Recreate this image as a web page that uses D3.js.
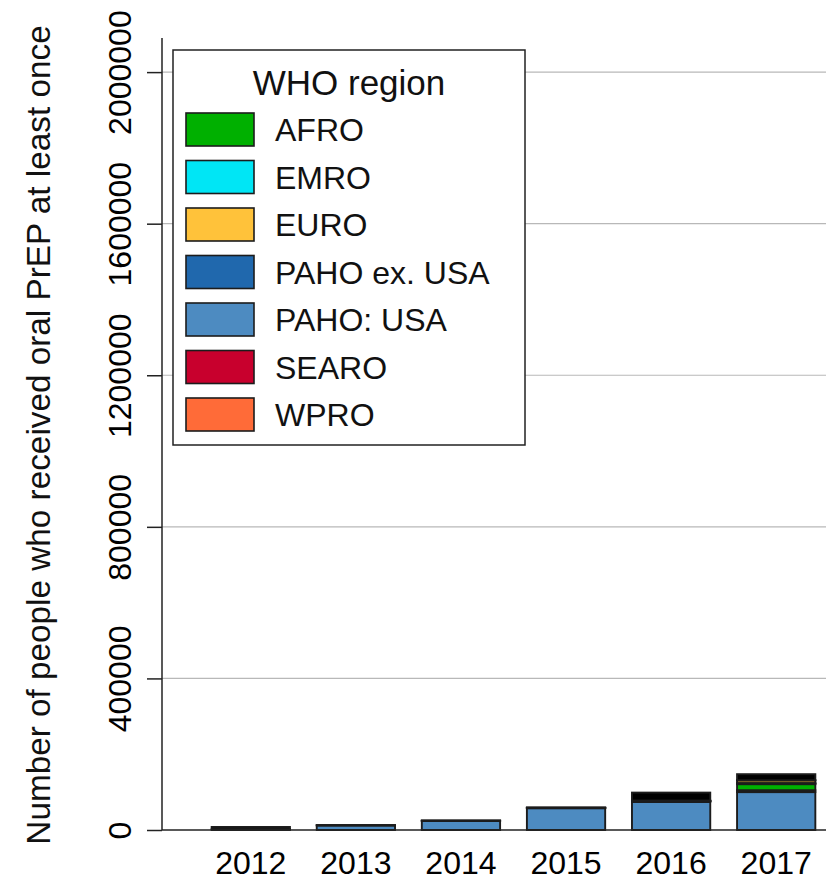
<!DOCTYPE html>
<html>
<head>
<meta charset="utf-8">
<script src="https://cdn.jsdelivr.net/npm/d3@7/dist/d3.min.js"></script>
<style>
  html, body { margin: 0; padding: 0; background: #fff; }
  svg { display: block; font-family: "Liberation Sans", Arial, sans-serif; }
</style>
</head>
<body>
<svg id="chart" width="826" height="880"></svg>
<script>
// Oral PrEP uptake by WHO region, 2012-2017
const years = ["2012", "2013", "2014", "2015", "2016", "2017"];

// series in stacking order (bottom to top)
const pahoUSA   = [2500, 12000, 24000, 57500, 74000, 100000];
const pahoExUSA = [0,    500,   500,   800,   1500,  5000];
const afro      = [0,    0,     200,   300,   1000,  16000];
const searo     = [0,    0,     0,     100,   300,   1500];
const wpro      = [0,    0,     0,     100,   300,   1500];
const euro      = [0,    0,     100,   200,   600,   7000];
const emro      = [0,    0,     0,     0,     0,     300];
const notReported = [5500, 500, 0,     0,     21000, 16000];

const yTicks = [0, 400000, 800000, 1200000, 1600000, 2000000];

const legendNames  = ["AFRO", "EMRO", "EURO", "PAHO ex. USA", "PAHO: USA", "SEARO", "WPRO"];
const legendColors = ["#00b000", "#00e6f5", "#ffc23a", "#2068ad", "#4d8bc1", "#c8002d", "#ff6b38"];

const seriesKeys = ["PAHO: USA", "PAHO ex. USA", "AFRO", "SEARO", "WPRO", "EURO", "EMRO", "Not reported"];
const seriesValues = [pahoUSA, pahoExUSA, afro, searo, wpro, euro, emro, notReported];
const fillOf = k => k === "Not reported" ? "#000000" : legendColors[legendNames.indexOf(k)];

const rows = years.map((yr, i) => {
  const r = { year: yr };
  seriesKeys.forEach((k, j) => { r[k] = seriesValues[j][i]; });
  return r;
});

const svg = d3.select("#chart");

const plot = { left: 162, right: 826, top: 38, bottom: 830 };

const x = d3.scaleBand()
  .domain(years)
  .range([198, 829])
  .paddingInner(0.255)
  .paddingOuter(0.13);

const y = d3.scaleLinear()
  .domain([0, 2090000])
  .range([plot.bottom, plot.top]);

// horizontal gridlines
svg.append("g")
  .selectAll("line")
  .data(yTicks.filter(d => d > 0))
  .join("line")
  .attr("x1", plot.left).attr("x2", plot.right)
  .attr("y1", d => y(d)).attr("y2", d => y(d))
  .attr("stroke", "#b8b8b8")
  .attr("stroke-width", 1.2);

// stacked bars
const stacked = d3.stack().keys(seriesKeys)(rows);
svg.append("g")
  .selectAll("g")
  .data(stacked)
  .join("g")
  .attr("fill", d => fillOf(d.key))
  .selectAll("rect")
  .data(d => d.filter(s => s[1] - s[0] > 0))
  .join("rect")
  .attr("x", d => x(d.data.year))
  .attr("width", x.bandwidth())
  .attr("y", d => y(d[1]))
  .attr("height", d => y(d[0]) - y(d[1]))
  .attr("stroke", "#1c1c1c")
  .attr("stroke-width", 1.9);

// y axis
const yAxis = svg.append("g")
  .attr("transform", `translate(${plot.left},0)`)
  .call(d3.axisLeft(y).tickValues(yTicks).tickSize(15).tickFormat(d3.format("d")));
yAxis.select(".domain").remove();
yAxis.selectAll(".tick line").attr("stroke", "#222").attr("stroke-width", 1.5);
yAxis.selectAll(".tick text")
  .attr("x", null).attr("dy", null)
  .attr("transform", "translate(-31,0) rotate(-90)")
  .attr("text-anchor", "middle")
  .attr("fill", "#000")
  .style("font-size", "32px")
  .style("font-family", "'Liberation Sans', Arial, sans-serif");
svg.append("line")
  .attr("x1", plot.left).attr("x2", plot.left)
  .attr("y1", plot.top).attr("y2", plot.bottom)
  .attr("stroke", "#222").attr("stroke-width", 1.5);

// x axis
const xAxis = svg.append("g")
  .attr("transform", `translate(0,${plot.bottom})`)
  .call(d3.axisBottom(x).tickSize(0).tickPadding(0));
xAxis.select(".domain").remove();
xAxis.selectAll(".tick text")
  .attr("y", 44).attr("dy", null)
  .attr("fill", "#000")
  .style("font-size", "32px")
  .style("font-family", "'Liberation Sans', Arial, sans-serif");
svg.append("line")
  .attr("x1", plot.left).attr("x2", plot.right)
  .attr("y1", plot.bottom).attr("y2", plot.bottom)
  .attr("stroke", "#222").attr("stroke-width", 1.5);

// y axis title
svg.append("text")
  .attr("transform", `translate(50,${(plot.top + plot.bottom) / 2 + 1}) rotate(-90)`)
  .attr("text-anchor", "middle")
  .style("font-size", "33.3px")
  .attr("fill", "#111")
  .text("Number of people who received oral PrEP at least once");

// legend
const lg = svg.append("g").attr("transform", "translate(173,50)");
lg.append("rect")
  .attr("width", 352).attr("height", 395)
  .attr("fill", "#fff")
  .attr("stroke", "#222").attr("stroke-width", 1.5);
lg.append("text")
  .attr("x", 176).attr("y", 45)
  .attr("text-anchor", "middle")
  .style("font-size", "35px")
  .attr("fill", "#111")
  .text("WHO region");
const item = lg.selectAll("g.item")
  .data(legendNames)
  .join("g")
  .attr("class", "item")
  .attr("transform", (d, i) => `translate(0,${79.5 + i * 47.5})`);
item.append("rect")
  .attr("x", 13).attr("y", -16.5)
  .attr("width", 68).attr("height", 33)
  .attr("fill", (d, i) => legendColors[i])
  .attr("stroke", "#1c1c1c").attr("stroke-width", 1.6);
item.append("text")
  .attr("x", 102).attr("y", 11.5)
  .style("font-size", "32px")
  .attr("fill", "#111")
  .text(d => d);
</script>
</body>
</html>
